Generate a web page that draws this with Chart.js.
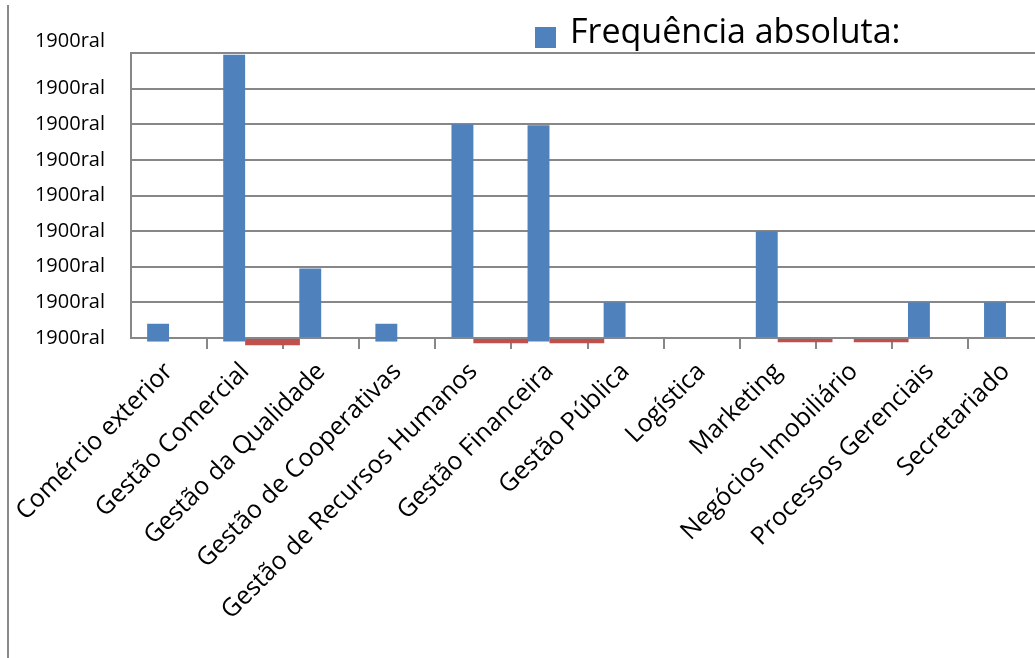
<!DOCTYPE html>
<html>
<head>
<meta charset="utf-8">
<script src="https://cdn.jsdelivr.net/npm/chart.js@4/dist/chart.umd.min.js"></script>
<style>
    html, body { margin: 0; padding: 0; background: #fff; overflow: hidden; }
    body { width: 1035px; height: 658px; position: relative; font-family: 'Open Sans', sans-serif; }
    #frame { position: absolute; left: 7px; top: 5px; width: 2px; height: 653px; background: #8a8a8a; }
    #wrap { position: absolute; left: 0; top: 0; width: 1060px; height: 658px; }
    #legend-box { position: absolute; left: 535px; top: 27px; width: 21px; height: 21px; background: #4f81bd; }
    #legend-text { position: absolute; left: 570px; top: 13px; font-size: 34px; line-height: 34px; color: #000; white-space: nowrap; }
</style>
</head>
<body>
<div id="frame"></div>
<div id="wrap"><canvas id="chart" width="1060" height="658"></canvas></div>
<div id="legend-box"></div>
<div id="legend-text">Frequência absoluta:</div>
<script>
const categories = [
    'Comércio exterior', 'Gestão Comercial', 'Gestão da Qualidade', 'Gestão de Cooperativas',
    'Gestão de Recursos Humanos', 'Gestão Financeira', 'Gestão Pública', 'Logística',
    'Marketing', 'Negócios Imobiliário', 'Processos Gerenciais', 'Secretariado'
];
// blue bars (top and bottom, some dip a little under the axis)
const frequencia = [0.4, 7.95, 1.95, 0.4, 6, 5.97, 1, 0, 3, 0, 1, 1];
const frequenciaBase = [-0.1, -0.1, 0, -0.1, 0, -0.1, 0, 0, 0, 0, 0, 0];
// red slivers under the axis
const segundaSerie = [null, -0.2, null, null, -0.15, -0.15, null, null, -0.12, -0.12, null, null];
const yTickLabels = ['1900ral', '1900ral', '1900ral', '1900ral', '1900ral', '1900ral', '1900ral', '1900ral', '1900ral'];

const gray = '#878787';

document.addEventListener('DOMContentLoaded', () => {
    const ctx = document.getElementById('chart').getContext('2d');
    new Chart(ctx, {
        type: 'bar',
        data: {
            labels: categories,
            datasets: [
                {
                    label: 'Frequência absoluta:',
                    data: frequencia.map((v, i) => [frequenciaBase[i], v]),
                    backgroundColor: '#4f81bd',
                    categoryPercentage: 0.576,
                    barPercentage: 1,
                    clip: false
                },
                {
                    label: 'Série 2',
                    data: segundaSerie,
                    backgroundColor: '#c0504d',
                    categoryPercentage: 1.44,
                    barPercentage: 1,
                    clip: false
                }
            ]
        },
        options: {
            responsive: false,
            animation: false,
            layout: { padding: { left: 0, top: 53, right: 16, bottom: 0 } },
            plugins: {
                legend: { display: false },
                tooltip: { enabled: false }
            },
            scales: {
                x: {
                    offset: true,
                    border: { display: true, color: gray, width: 2 },
                    grid: {
                        offset: true,
                        drawOnChartArea: false,
                        drawTicks: true,
                        tickLength: 11,
                        lineWidth: 2,
                        color: c => c.index === 0 ? 'rgba(0,0,0,0)' : gray
                    },
                    ticks: {
                        autoSkip: false,
                        maxRotation: 45,
                        minRotation: 45,
                        padding: 8,
                        color: '#000',
                        font: { family: 'Open Sans', size: 25 }
                    },
                    afterFit: scale => { scale.height = 320; }
                },
                y: {
                    min: 0,
                    max: 8,
                    border: { display: true, color: gray, width: 2 },
                    grid: { color: gray, lineWidth: 2, drawTicks: false },
                    ticks: {
                        stepSize: 1,
                        autoSkip: false,
                        padding: 26,
                        color: '#000',
                        font: { family: 'Open Sans', size: 20 },
                        // the top label sits a bit above its gridline in the original
                        callback: (v, i) => i === yTickLabels.length - 1 ? [yTickLabels[i], ''] : yTickLabels[i]
                    },
                    afterFit: scale => { scale.width = 131; }
                }
            }
        }
    });
});
</script>
</body>
</html>
